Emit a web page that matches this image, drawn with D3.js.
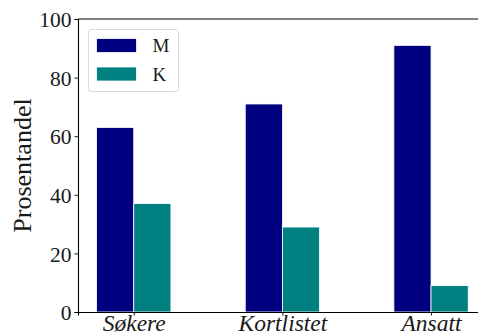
<!DOCTYPE html>
<html>
<head>
<meta charset="utf-8">
<script src="https://cdn.jsdelivr.net/npm/d3@7"></script>
<style>
  html, body { margin: 0; padding: 0; background: #fff; }
  svg { display: block; }
</style>
</head>
<body>
<svg id="chart" width="478" height="336"></svg>
<script>
// Share of men (M) and women (K) at each stage of the hiring process
const categories = ["Søkere", "Kortlistet", "Ansatt"];
const seriesNames = ["M", "K"];
const valuesM = [63, 71, 91];
const valuesK = [37, 29, 9];
const yTicks = [0, 20, 40, 60, 80, 100];
const yLabel = "Prosentandel";

const colors = { M: "#000080", K: "#008080" };
const barWidth = 0.25;
const serif = "'Liberation Serif', 'Times New Roman', 'DejaVu Serif', serif";

const svg = d3.select("#chart").attr("font-family", serif);
const plotLeft = 78, plotTop = 19, plotBottom = 312;
const unit = 148.65;

const x = d3.scaleLinear()
  .domain([-0.375, categories.length - 1 + 0.375])
  .range([plotLeft, plotLeft + unit * (categories.length - 1 + 0.75)]);
const y = d3.scaleLinear().domain([0, 100]).range([plotBottom, plotTop]);

const series = [
  { name: "M", values: valuesM, offset: -barWidth },
  { name: "K", values: valuesK, offset: 0 }
];

// Bars
series.forEach(s => {
  svg.append("g").selectAll("rect")
    .data(s.values)
    .join("rect")
    .attr("x", (d, i) => x(i + s.offset))
    .attr("width", x(barWidth) - x(0))
    .attr("y", d => y(d))
    .attr("height", d => y(0) - y(d))
    .attr("fill", colors[s.name])
    .attr("stroke", "#ffffff")
    .attr("stroke-width", 0.8);
});

// Y axis
const yAxis = svg.append("g")
  .attr("transform", `translate(${plotLeft},0)`)
  .call(d3.axisLeft(y).tickValues(yTicks).tickSize(3.5).tickPadding(3).tickFormat(d3.format("d")));
yAxis.attr("font-family", serif);
yAxis.select(".domain").attr("stroke", "#000").attr("stroke-width", 1.1);
yAxis.selectAll(".tick line").attr("stroke", "#000").attr("stroke-width", 0.9);
yAxis.selectAll(".tick text")
  .attr("fill", "#1a1a1a")
  .style("font-family", serif)
  .style("font-size", "21.5px")
  .attr("dy", "0.36em");

// X axis
const xAxis = svg.append("g")
  .attr("transform", `translate(0,${plotBottom})`)
  .call(d3.axisBottom(x).tickValues(d3.range(categories.length)).tickSize(3.5).tickPadding(2)
    .tickFormat(i => categories[i]));
xAxis.attr("font-family", serif);
xAxis.select(".domain").attr("stroke", "#000").attr("stroke-width", 1.1);
xAxis.selectAll(".tick line").attr("stroke", "#000").attr("stroke-width", 0.9);
xAxis.selectAll(".tick text")
  .attr("fill", "#1a1a1a")
  .style("font-family", serif)
  .style("font-size", "23.5px")
  .style("font-style", "italic")
  .attr("y", 18.5)
  .attr("dy", null);

// Top spine
svg.append("line")
  .attr("x1", plotLeft).attr("x2", x.range()[1])
  .attr("y1", plotTop).attr("y2", plotTop)
  .attr("stroke", "#000").attr("stroke-width", 1.1);

// Y label
svg.append("text")
  .attr("transform", `translate(31,${(plotTop + plotBottom) / 2}) rotate(-90)`)
  .attr("text-anchor", "middle")
  .attr("fill", "#1a1a1a")
  .style("font-family", serif)
  .style("font-size", "26px")
  .text(yLabel);

// Legend
const legend = svg.append("g").attr("transform", "translate(88.5,29.5)");
legend.append("rect")
  .attr("width", 90).attr("height", 62)
  .attr("rx", 3).attr("ry", 3)
  .attr("fill", "#fff").attr("fill-opacity", 0.8)
  .attr("stroke", "#d9d9d9").attr("stroke-width", 1);
seriesNames.forEach((name, i) => {
  const gy = 9 + i * 28.5;
  legend.append("rect")
    .attr("x", 8).attr("y", gy)
    .attr("width", 40).attr("height", 14)
    .attr("fill", colors[name])
    .attr("stroke", "#fff").attr("stroke-width", 0.8);
  legend.append("text")
    .attr("x", 64).attr("y", gy + 7)
    .attr("dy", "0.36em")
    .attr("fill", "#1a1a1a")
    .style("font-family", serif)
    .style("font-size", "19px")
    .text(name);
});
</script>
</body>
</html>
